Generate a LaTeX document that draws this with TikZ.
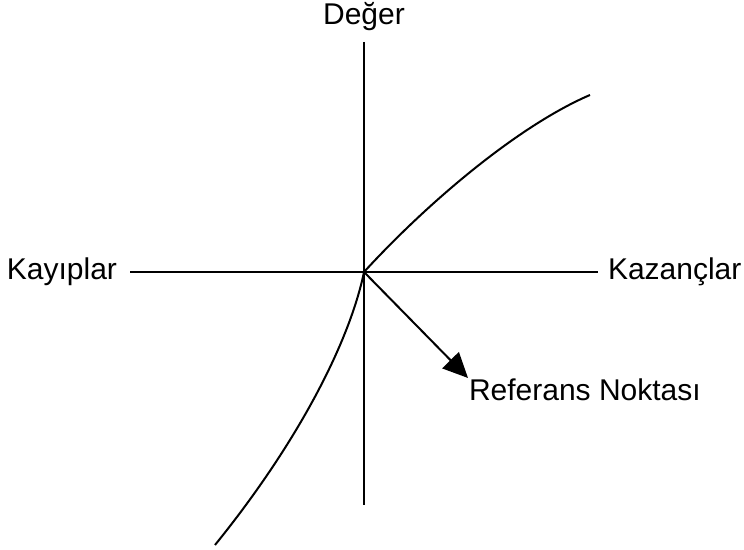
\documentclass[tikz,border=0pt]{standalone}
\usepackage{fontspec}
\setmainfont{Liberation Sans}
\usetikzlibrary{arrows.meta}
\begin{document}
\begin{tikzpicture}[x=0.5pt,y=0.5pt,line width=1pt,
    lbl/.style={font=\fontsize{15}{18}\selectfont,inner sep=0pt}]
        \useasboundingbox (0,0) rectangle (744,550);
        \coordinate (O) at (364,278);
        % axis labels
        \node[lbl,anchor=south] (deger) at (364,518) {Değer};
        \node[lbl,anchor=east] (kayip) at (118,278) {Kayıplar};
        \node[lbl,anchor=west] (kazanc) at (607,278) {Kazançlar};
        \node[lbl,anchor=north west] (ref) at (468,172) {Referans Noktası};
        % axes
        \coordinate (top) at (364,508);
        \coordinate (bot) at (364,45);
        \coordinate (left) at (130,278);
        \coordinate (right) at (598,278);
        \draw (left) -- (right);
        \draw (top) -- (bot);
        % value curve
        \coordinate (gain) at (590,455);
        \coordinate (loss) at (215,5);
        \draw (O) .. controls (430,350) and (520,425) .. (gain);
        \draw (O) .. controls (350,210) and (300,110) .. (loss);
        % reference point arrow
        \draw[-{Triangle[length=12.5pt,width=11.5pt]}] (O) -- (ref.north west);
      \end{tikzpicture}
\end{document}
